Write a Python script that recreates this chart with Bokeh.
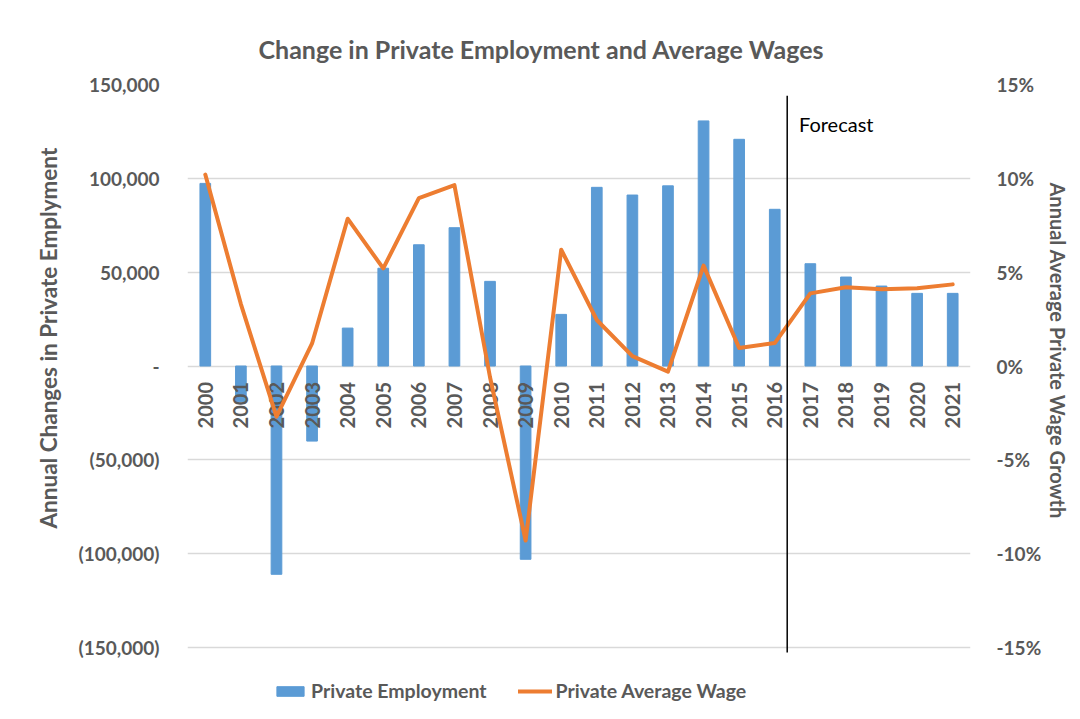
import math
from bokeh.plotting import figure
from bokeh.models import (Range1d, LinearAxis, FixedTicker, Legend, LegendItem,
                          Label, ColumnDataSource, FactorRange, Title)
from bokeh.core.properties import value
from bokeh.embed import file_html
from bokeh.resources import INLINE

# ---------------- data ----------------
years = [str(y) for y in range(2000, 2022)]
employment = [97300, -19000, -111000, -40000, 20200, 52100, 64600, 73700, 45100, -103000,
              27500, 95200, 91100, 96000, 130600, 120800, 83500, 54500, 47400, 42600,
              38700, 38700]
wage_growth = [0.102, 0.033, -0.027, 0.012, 0.0785, 0.052, 0.0895, 0.0964, -0.006, -0.093,
               0.062, 0.0245, 0.0053, -0.003, 0.0535, 0.0096, 0.0122, 0.0387, 0.042, 0.0409,
               0.0414, 0.0435]
left_ticks = [-150000, -100000, -50000, 0, 50000, 100000, 150000]
left_tick_labels = ["(150,000)", "(100,000)", "(50,000)", "-", "50,000", "100,000", "150,000"]
right_ticks = [-0.15, -0.10, -0.05, 0.0, 0.05, 0.10, 0.15]
right_tick_labels = ["-15%", "-10%", "-5%", "0%", "5%", "10%", "15%"]
forecast_text = "Forecast"
left_title = "Annual Changes in Private Emplyment"
right_title = "Annual Average Private Wage Growth"

FONT = "Lato"
GRAY = "#595959"

# layout: axis area 563px tall for the ±150,000 scale; 64px more below it hold the legend
AXIS_PX = 563
LEGEND_PX = 64
emp_lo, emp_hi = -150000, 150000
wage_lo, wage_hi = -0.15, 0.15
emp_start = emp_lo - LEGEND_PX * (emp_hi - emp_lo) / AXIS_PX
wage_start = wage_lo - LEGEND_PX * (wage_hi - wage_lo) / AXIS_PX

src = ColumnDataSource(dict(year=years, emp=employment, wage=wage_growth,
                            zero=[0] * len(years)))

p = figure(x_range=FactorRange(*years), y_range=Range1d(emp_start, emp_hi),
           width=1072, height=84 + AXIS_PX + LEGEND_PX, output_backend="svg",
           toolbar_location=None,
           min_border_left=187, min_border_right=99, min_border_top=84,
           min_border_bottom=0)
p.extra_y_ranges = {"wage": Range1d(wage_start, wage_hi)}

# title
p.title.text = "Change in Private Employment and Average Wages"
p.title.text_font = FONT
p.title.text_font_size = "25px"
p.title.text_font_style = "bold"
p.title.text_color = GRAY
p.title.align = "left"
p.title.offset = 71
p.title.standoff = 41

p.outline_line_color = None
p.xgrid.grid_line_color = None
p.ygrid.grid_line_color = "#d9d9d9"
p.ygrid.grid_line_width = 1.5
p.xaxis.visible = False

# left axis
ya = p.yaxis[0]
ya.ticker = FixedTicker(ticks=left_ticks)
ya.major_label_overrides = {t: l for t, l in zip(left_ticks, left_tick_labels)}
ya.axis_line_color = None
ya.major_tick_line_color = None
ya.minor_tick_line_color = None
ya.major_label_text_font = FONT
ya.major_label_text_font_size = "19px"
ya.major_label_text_font_style = "bold"
ya.major_label_text_color = GRAY
ya.major_label_standoff = 22

# right axis
ra = LinearAxis(y_range_name="wage", ticker=FixedTicker(ticks=right_ticks))
ra.major_label_overrides = {t: l for t, l in zip(right_ticks, right_tick_labels)}
ra.axis_line_color = None
ra.major_tick_line_color = None
ra.minor_tick_line_color = None
ra.major_label_text_font = FONT
ra.major_label_text_font_size = "19px"
ra.major_label_text_font_style = "bold"
ra.major_label_text_color = GRAY
ra.major_label_standoff = 20
p.add_layout(ra, "right")

# axis titles as side titles (so they can sit where the reference has them)
p.add_layout(Title(text=left_title, align="left", offset=183, standoff=28,
                   text_font=FONT, text_font_size="22.5px", text_font_style="bold",
                   text_color=GRAY), "left")
p.add_layout(Title(text=right_title, align="left", offset=98, standoff=2,
                   text_font=FONT, text_font_size="20px", text_font_style="bold",
                   text_color=GRAY), "right")

# bars
bars = p.vbar(x="year", top="emp", width=0.3, source=src, fill_color="#5B9BD5",
              line_color="#5B9BD5")

# category labels at the zero line
p.text(x="year", y="zero", text="year", source=src, angle=math.pi / 2,
       text_align="right", text_baseline="middle", y_offset=16,
       text_font=value(FONT), text_font_size="20px", text_font_style="bold",
       text_color=GRAY)

# wage line
line = p.line(x="year", y="wage", y_range_name="wage", source=src,
              line_color="#ED7D31", line_width=4, line_join="round", line_cap="round")

# forecast marker
fx = years.index("2017") - 0.15
p.segment(x0=[fx], y0=[144000], x1=[fx], y1=[-152700], line_color="black", line_width=1.5)
p.add_layout(Label(x=fx + 0.33, y=129000, text=forecast_text, text_font=FONT,
                   text_font_size="20px", text_color="black", text_baseline="middle"))

legend = Legend(items=[LegendItem(label="Private Employment", renderers=[bars]),
                       LegendItem(label="Private Average Wage", renderers=[line])],
                orientation="horizontal", location=(86, 9),
                label_text_font=FONT, label_text_font_size="19.5px",
                label_text_font_style="bold", label_text_color=GRAY,
                glyph_width=34, glyph_height=12, spacing=31, label_standoff=4,
                border_line_color=None, background_fill_alpha=0, padding=0, margin=0)
p.add_layout(legend, "center")

open("out.html", "w").write(file_html(p, INLINE))
